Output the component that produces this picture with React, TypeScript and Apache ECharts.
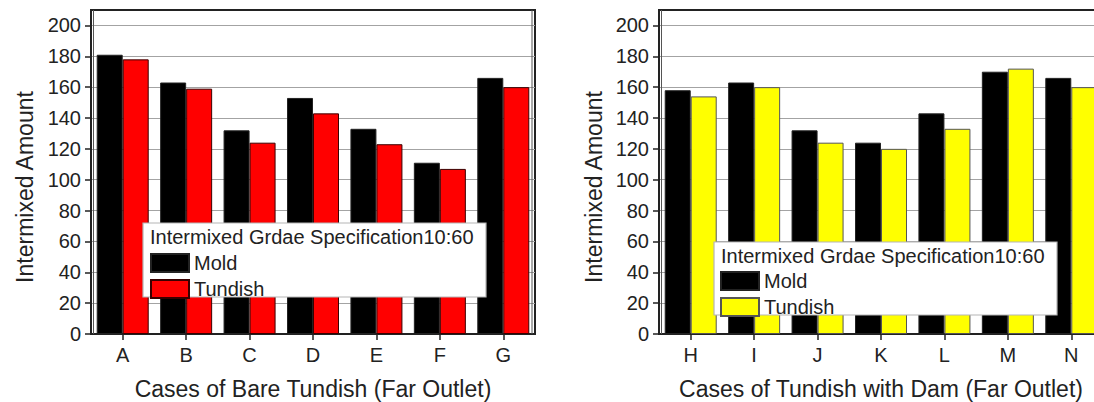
import React, { useEffect, useRef } from "react";
import * as echarts from "echarts";

const categoriesBare = ["A", "B", "C", "D", "E", "F", "G"];
const moldBare = [181, 163, 132, 153, 133, 111, 166];
const tundishBare = [178, 159, 124, 143, 123, 107, 160];

const categoriesDam = ["H", "I", "J", "K", "L", "M", "N"];
const moldDam = [158, 163, 132, 124, 143, 170, 166];
const tundishDam = [154, 160, 124, 120, 133, 172, 160];

const yTicks = [0, 20, 40, 60, 80, 100, 120, 140, 160, 180, 200];
const Y_MIN = 0;
const Y_MAX = 210;
const Y_INTERVAL = 20;

const xNameBare = "Cases of Bare Tundish (Far Outlet)";
const xNameDam = "Cases of Tundish with Dam (Far Outlet)";
const yName = "Intermixed Amount";
const legendTitle = "Intermixed Grdae Specification10:60";

const FONT = "'Liberation Sans', Arial, sans-serif";
const TXT = "#222";

const GRIDS = [
  { left: 91, top: 10, width: 444, height: 324 },
  { left: 659, top: 10, width: 444, height: 324 },
];

export default function App() {
  const ref = useRef<HTMLDivElement>(null);

  useEffect(() => {
    document.body.style.margin = "0";
    if (!ref.current) return;
    const chart = echarts.init(ref.current, null, { renderer: "svg" });

    const mkX = (i: number, data: string[], name: string) => ({
      type: "category",
      gridIndex: i,
      data,
      boundaryGap: true,
      name,
      nameLocation: "middle",
      nameGap: 43,
      nameTextStyle: { fontSize: 23, color: TXT, fontFamily: FONT },
      axisLine: { show: true, lineStyle: { color: "#222", width: 2 } },
      axisTick: { show: true, alignWithLabel: true, length: 6, lineStyle: { color: "#222", width: 1.5 } },
      axisLabel: { fontSize: 20, color: TXT, fontFamily: FONT, margin: 11 },
      splitLine: { show: false },
    });

    const mkY = (i: number) => ({
      type: "value",
      gridIndex: i,
      min: Y_MIN,
      max: Y_MAX,
      interval: Y_INTERVAL,
      axisLine: { show: true, lineStyle: { color: "#222", width: 2 } },
      axisTick: { show: true, inside: false, length: 6, customValues: yTicks, lineStyle: { color: "#222", width: 1.5 } },
      axisLabel: { fontSize: 20, color: TXT, fontFamily: FONT, margin: 10, customValues: yTicks },
      splitLine: { show: true, lineStyle: { color: "#a3a3a3", width: 1.2 } },
    });

    const bar = (name: string, idx: number, data: number[], color: string, border: string) => ({
      type: "bar",
      name,
      xAxisIndex: idx,
      yAxisIndex: idx,
      data,
      barWidth: 26,
      barGap: "0%",
      itemStyle: { color, borderColor: border, borderWidth: 1 },
    });

    const legendBase = {
      orient: "vertical",
      itemWidth: 38,
      itemHeight: 18,
      itemGap: 6,
      padding: 0,
      icon: "rect",
      selectedMode: false,
      z: 60,
      textStyle: { fontSize: 20, color: TXT, fontFamily: FONT },
      formatter: (n: string) => n.replace(" (Dam)", ""),
    };

    const innerLines: any[] = [];
    GRIDS.forEach((g) => {
      [g.left + 2.5, g.left + g.width - 3].forEach((x) => {
        innerLines.push({
          type: "line",
          z: 5,
          shape: { x1: x, y1: g.top, x2: x, y2: g.top + g.height },
          style: { stroke: "#555", lineWidth: 1 },
        });
      });
    });

    const legendBox = (x: number, y: number, h: number) => ({
      type: "rect",
      z: 50,
      shape: { x, y, width: 343, height: h },
      style: { fill: "#fff", stroke: "#b5b5b5", lineWidth: 1.2 },
    });
    const legendText = (x: number, y: number) => ({
      type: "text",
      z: 51,
      x,
      y,
      style: {
        text: legendTitle,
        fontSize: 20,
        fontFamily: FONT,
        fill: TXT,
        textAlign: "left",
        textVerticalAlign: "middle",
      },
    });
    const yNameText = (x: number) => ({
      type: "text",
      z: 51,
      x,
      y: 187,
      rotation: Math.PI / 2,
      style: {
        text: yName,
        fontSize: 23,
        fontFamily: FONT,
        fill: TXT,
        textAlign: "center",
        textVerticalAlign: "middle",
      },
    });

    chart.setOption({
      animation: false,
      backgroundColor: "#fff",
      grid: GRIDS.map((g) => ({
        ...g,
        show: true,
        borderColor: "#222",
        borderWidth: 2,
        backgroundColor: "transparent",
        containLabel: false,
        outerBoundsMode: "none",
      })),
      xAxis: [mkX(0, categoriesBare, xNameBare), mkX(1, categoriesDam, xNameDam)],
      yAxis: [mkY(0), mkY(1)],
      legend: [
        { ...legendBase, data: ["Mold", "Tundish"], left: 150, top: 253 },
        { ...legendBase, data: ["Mold (Dam)", "Tundish (Dam)"], left: 720, top: 271 },
      ],
      graphic: [
        ...innerLines,
        legendBox(143, 223, 74),
        legendText(150, 237),
        legendBox(714, 242, 73),
        legendText(721, 256),
        yNameText(25),
        yNameText(594),
      ],
      series: [
        bar("Mold", 0, moldBare, "#000000", "#222"),
        bar("Tundish", 0, tundishBare, "#ff0000", "#3a0000"),
        bar("Mold (Dam)", 1, moldDam, "#000000", "#222"),
        bar("Tundish (Dam)", 1, tundishDam, "#ffff00", "#555"),
      ],
    });

    return () => chart.dispose();
  }, []);

  return <div ref={ref} style={{ width: 1094, height: 402 }} />;
}
